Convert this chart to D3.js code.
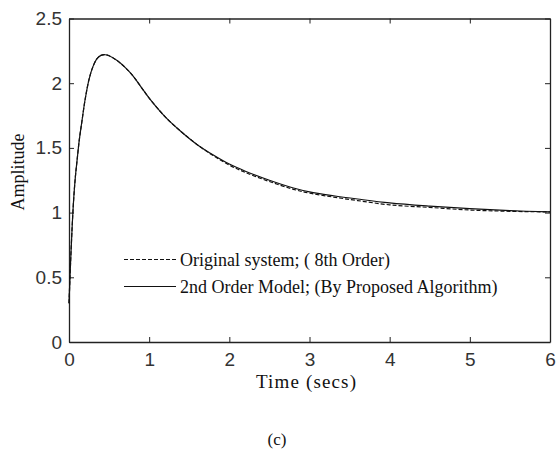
<!DOCTYPE html>
<html><head><meta charset="utf-8">
<script src="https://cdn.jsdelivr.net/npm/d3@7"></script>
<style>body{margin:0;background:#fff}svg{display:block}</style>
</head><body>
<script>
const timeSecs = [0, 0.02, 0.04, 0.06, 0.08, 0.1, 0.13, 0.16, 0.2, 0.25, 0.3, 0.35, 0.4, 0.45, 0.5, 0.6, 0.7, 0.8, 0.9, 1.0, 1.2, 1.4, 1.6, 1.8, 2.0, 2.2, 2.5, 2.8, 3.0, 3.3, 3.6, 4.0, 4.5, 5.0, 5.5, 6.0];
const modelAmp = [0.30, 0.62, 0.90, 1.12, 1.28, 1.40, 1.57, 1.70, 1.87, 2.03, 2.13, 2.19, 2.215, 2.22, 2.212, 2.175, 2.122, 2.055, 1.97, 1.885, 1.74, 1.625, 1.525, 1.445, 1.375, 1.32, 1.25, 1.19, 1.16, 1.13, 1.105, 1.075, 1.05, 1.03, 1.015, 1.005];
const originalAmp = [0.30, 0.62, 0.90, 1.12, 1.28, 1.40, 1.57, 1.70, 1.87, 2.03, 2.13, 2.19, 2.215, 2.22, 2.212, 2.175, 2.122, 2.055, 1.97, 1.885, 1.74, 1.625, 1.525, 1.44, 1.367, 1.31, 1.24, 1.18, 1.15, 1.12, 1.093, 1.06, 1.04, 1.02, 1.01, 1.005];
const xTicks = [0, 1, 2, 3, 4, 5, 6];
const yTicks = [0, 0.5, 1, 1.5, 2, 2.5];
const legendLabels = ["Original system; ( 8th Order)", "2nd Order Model; (By Proposed Algorithm)"];

const W = 556, H = 455;
const L = 69, R = 550, T = 18.5, B = 342;
const svg = d3.select("body").append("svg").attr("width", W).attr("height", H);
const x = d3.scaleLinear().domain([0, 6]).range([L, R]);
const y = d3.scaleLinear().domain([0, 2.5]).range([B, T]);

const tickFont = "'Liberation Sans', Arial, sans-serif";
const serif = "'Liberation Serif', 'Times New Roman', serif";

const ax = svg.append("g").attr("transform", `translate(0,${B})`)
  .call(d3.axisBottom(x).tickValues(xTicks).tickFormat(d3.format("")).tickSizeInner(-5).tickSizeOuter(0).tickPadding(11));
const axTop = svg.append("g").attr("transform", `translate(0,${T})`)
  .call(d3.axisTop(x).tickValues(xTicks).tickFormat("").tickSizeInner(-5).tickSizeOuter(0));
const ay = svg.append("g").attr("transform", `translate(${L},0)`)
  .call(d3.axisLeft(y).tickValues(yTicks).tickFormat(d3.format("")).tickSizeInner(-5).tickSizeOuter(0).tickPadding(7));
const ayR = svg.append("g").attr("transform", `translate(${R},0)`)
  .call(d3.axisRight(y).tickValues(yTicks).tickFormat("").tickSizeInner(-5).tickSizeOuter(0));
[ax, axTop, ay, ayR].forEach(g => {
  g.selectAll("path.domain").attr("stroke", "#222").attr("stroke-width", 1.3);
  g.selectAll(".tick line").attr("stroke", "#222");
  g.selectAll("text").attr("font-family", tickFont).attr("font-size", 19).attr("fill", "#333");
});

const line = d3.line().x((d, i) => x(timeSecs[i])).y(d => y(d)).curve(d3.curveCatmullRom.alpha(0.5));
svg.append("path").datum(originalAmp).attr("d", line).attr("fill", "none")
  .attr("stroke", "#111").attr("stroke-width", 1.2).attr("stroke-dasharray", "4,2");
svg.append("path").datum(modelAmp).attr("d", line).attr("fill", "none")
  .attr("stroke", "#111").attr("stroke-width", 1.2);

// legend
const lg = svg.append("g");
const legY = [259.5, 286.5];
legendLabels.forEach((lab, i) => {
  lg.append("line").attr("x1", 124).attr("x2", 176).attr("y1", legY[i]).attr("y2", legY[i])
    .attr("stroke", "#111").attr("stroke-width", 1.2).attr("stroke-dasharray", i === 0 ? "4,2" : null);
  lg.append("text").attr("x", 180).attr("y", legY[i] + 6).text(lab)
    .attr("font-family", serif).attr("font-size", 18).attr("fill", "#111");
});

// axis labels
svg.append("text").attr("x", 256).attr("y", 388)
  .attr("textLength", 100).attr("lengthAdjust", "spacing")
  .attr("font-family", serif).attr("font-size", 19).attr("fill", "#111").text("Time (secs)");
svg.append("text").attr("transform", `translate(24,172) rotate(-90)`).attr("text-anchor", "middle")
  .attr("font-family", serif).attr("font-size", 18).attr("fill", "#111").text("Amplitude");
svg.append("text").attr("x", 277).attr("y", 445).attr("text-anchor", "middle")
  .attr("font-family", serif).attr("font-size", 17).attr("fill", "#111").text("(c)");
</script>
</body></html>
